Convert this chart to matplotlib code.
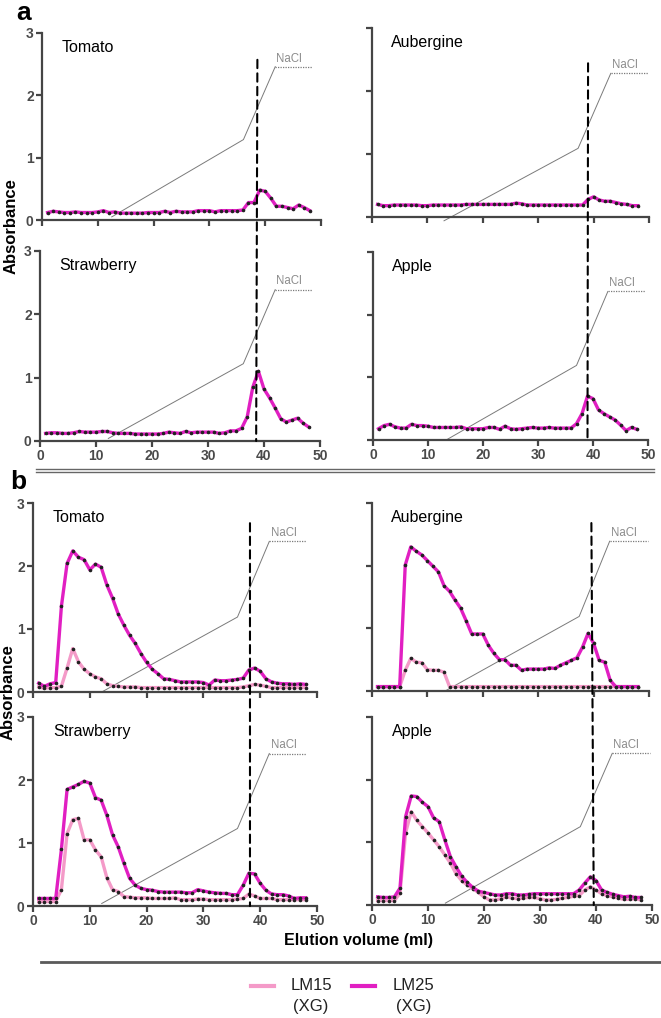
import numpy as np
import matplotlib.pyplot as plt
from matplotlib.patches import ConnectionPatch

plt.rcParams['font.family'] = ['Liberation Sans', 'DejaVu Sans']

W, H = 661, 1018

fractions = list(range(1, 49))

# ---- panel a : LM25 only ----
a_tomato = [0.12, 0.14, 0.13, 0.12, 0.12, 0.13, 0.12, 0.12, 0.12, 0.13,
            0.15, 0.12, 0.13, 0.11, 0.11, 0.11, 0.11, 0.11, 0.12, 0.12,
            0.12, 0.14, 0.12, 0.14, 0.13, 0.13, 0.13, 0.15, 0.15, 0.15,
            0.13, 0.15, 0.15, 0.15, 0.15, 0.16, 0.28, 0.28, 0.48, 0.46,
            0.35, 0.22, 0.22, 0.20, 0.18, 0.24, 0.20, 0.15]
a_aubergine = [0.20, 0.18, 0.18, 0.19, 0.19, 0.19, 0.19, 0.19, 0.18, 0.18,
               0.19, 0.19, 0.19, 0.19, 0.19, 0.19, 0.20, 0.20, 0.20, 0.20,
               0.20, 0.20, 0.20, 0.20, 0.20, 0.22, 0.21, 0.19, 0.19, 0.19,
               0.19, 0.19, 0.19, 0.19, 0.19, 0.19, 0.19, 0.19, 0.28, 0.32,
               0.27, 0.25, 0.25, 0.23, 0.21, 0.20, 0.18, 0.18]
a_strawberry = [0.12, 0.13, 0.13, 0.12, 0.12, 0.13, 0.15, 0.14, 0.14, 0.14,
                0.15, 0.15, 0.13, 0.12, 0.12, 0.12, 0.11, 0.11, 0.11, 0.11,
                0.11, 0.12, 0.14, 0.13, 0.12, 0.15, 0.13, 0.14, 0.14, 0.14,
                0.14, 0.12, 0.13, 0.16, 0.16, 0.20, 0.38, 0.85, 1.10, 0.82,
                0.68, 0.52, 0.35, 0.30, 0.33, 0.36, 0.28, 0.22]
a_apple = [0.18, 0.23, 0.25, 0.21, 0.19, 0.19, 0.25, 0.23, 0.23, 0.22,
           0.20, 0.20, 0.20, 0.20, 0.20, 0.21, 0.18, 0.18, 0.18, 0.18,
           0.20, 0.20, 0.17, 0.22, 0.18, 0.17, 0.18, 0.19, 0.20, 0.19,
           0.19, 0.20, 0.19, 0.19, 0.19, 0.19, 0.26, 0.42, 0.70, 0.66,
           0.48, 0.42, 0.37, 0.32, 0.24, 0.15, 0.20, 0.17]

# ---- panel b : LM15 and LM25 ----
b_tomato_lm25 = [0.14, 0.09, 0.13, 0.15, 1.36, 2.04, 2.24, 2.14, 2.10, 1.94,
                 2.03, 1.98, 1.70, 1.49, 1.24, 1.06, 0.90, 0.77, 0.61, 0.47,
                 0.36, 0.29, 0.21, 0.20, 0.18, 0.16, 0.16, 0.16, 0.16, 0.15,
                 0.11, 0.19, 0.18, 0.18, 0.19, 0.20, 0.22, 0.35, 0.38, 0.33,
                 0.21, 0.16, 0.14, 0.13, 0.13, 0.12, 0.13, 0.12]
b_tomato_lm15 = [0.08, 0.06, 0.07, 0.07, 0.09, 0.38, 0.69, 0.48, 0.36, 0.29,
                 0.24, 0.21, 0.13, 0.10, 0.09, 0.08, 0.08, 0.08, 0.07, 0.07,
                 0.07, 0.07, 0.07, 0.07, 0.07, 0.07, 0.07, 0.07, 0.07, 0.07,
                 0.07, 0.07, 0.07, 0.07, 0.07, 0.07, 0.08, 0.10, 0.12, 0.11,
                 0.09, 0.07, 0.07, 0.07, 0.07, 0.07, 0.07, 0.07]
b_aubergine_lm25 = [0.07, 0.07, 0.07, 0.07, 0.07, 2.01, 2.30, 2.23, 2.17, 2.08,
                    1.99, 1.90, 1.68, 1.59, 1.45, 1.32, 1.12, 0.91, 0.91, 0.91,
                    0.73, 0.60, 0.50, 0.50, 0.41, 0.41, 0.33, 0.35, 0.35, 0.35,
                    0.35, 0.37, 0.36, 0.41, 0.45, 0.49, 0.53, 0.70, 0.92, 0.76,
                    0.49, 0.46, 0.17, 0.07, 0.07, 0.07, 0.07, 0.07]
b_aubergine_lm15 = [0.07, 0.07, 0.07, 0.07, 0.07, 0.33, 0.52, 0.46, 0.45, 0.34,
                    0.33, 0.33, 0.30, 0.07, 0.07, 0.07, 0.07, 0.07, 0.07, 0.07,
                    0.07, 0.07, 0.07, 0.07, 0.07, 0.07, 0.07, 0.07, 0.07, 0.07,
                    0.07, 0.07, 0.07, 0.07, 0.07, 0.07, 0.07, 0.07, 0.07, 0.07,
                    0.07, 0.07, 0.07, 0.07, 0.07, 0.07, 0.07, 0.07]
b_strawberry_lm25 = [0.12, 0.12, 0.12, 0.12, 0.90, 1.85, 1.89, 1.93, 1.98, 1.95,
                     1.72, 1.68, 1.44, 1.13, 0.94, 0.68, 0.44, 0.33, 0.28, 0.26,
                     0.25, 0.23, 0.22, 0.22, 0.22, 0.22, 0.21, 0.21, 0.26, 0.24,
                     0.22, 0.21, 0.20, 0.20, 0.18, 0.18, 0.33, 0.52, 0.51, 0.36,
                     0.25, 0.19, 0.18, 0.18, 0.16, 0.12, 0.13, 0.13]
b_strawberry_lm15 = [0.07, 0.07, 0.07, 0.07, 0.26, 1.15, 1.37, 1.39, 1.05, 1.05,
                     0.89, 0.78, 0.45, 0.26, 0.23, 0.15, 0.14, 0.13, 0.13, 0.13,
                     0.12, 0.12, 0.12, 0.12, 0.13, 0.10, 0.10, 0.10, 0.11, 0.11,
                     0.10, 0.10, 0.10, 0.10, 0.10, 0.11, 0.12, 0.19, 0.16, 0.12,
                     0.12, 0.12, 0.10, 0.10, 0.10, 0.10, 0.10, 0.10]
b_apple_lm25 = [0.13, 0.12, 0.12, 0.13, 0.27, 1.41, 1.74, 1.73, 1.64, 1.57,
                1.39, 1.33, 1.04, 0.77, 0.61, 0.46, 0.36, 0.28, 0.22, 0.20,
                0.18, 0.16, 0.16, 0.18, 0.18, 0.16, 0.16, 0.17, 0.18, 0.18,
                0.18, 0.18, 0.18, 0.18, 0.18, 0.18, 0.24, 0.35, 0.45, 0.39,
                0.24, 0.20, 0.17, 0.15, 0.13, 0.14, 0.12, 0.12]
b_apple_lm15 = [0.07, 0.07, 0.07, 0.07, 0.19, 1.15, 1.49, 1.35, 1.25, 1.15,
                1.04, 0.93, 0.80, 0.67, 0.50, 0.39, 0.32, 0.26, 0.20, 0.13,
                0.08, 0.08, 0.10, 0.13, 0.11, 0.10, 0.11, 0.12, 0.12, 0.10,
                0.08, 0.08, 0.09, 0.11, 0.12, 0.14, 0.15, 0.24, 0.29, 0.24,
                0.18, 0.15, 0.13, 0.11, 0.09, 0.09, 0.10, 0.08]

# NaCl gradient traces (ml, drawn on absorbance scale)
a_tomato_nacl = ([12.5, 36.1, 41.8, 48.3], [0.05, 1.29, 2.46, 2.46])
a_aubergine_nacl = ([13.0, 37.2, 43.1, 49.8], [-0.06, 1.09, 2.28, 2.28])
a_strawberry_nacl = ([12.2, 36.3, 42.0, 48.5], [0.04, 1.22, 2.39, 2.39])
a_apple_nacl = ([13.3, 37.0, 42.7, 49.4], [0.0, 1.19, 2.37, 2.37])
b_tomato_nacl = ([12.1, 36.0, 41.6, 48.1], [0.0, 1.19, 2.39, 2.39])
b_aubergine_nacl = ([13.2, 37.4, 42.9, 49.8], [0.0, 1.19, 2.39, 2.39])
b_strawberry_nacl = ([12.1, 36.0, 41.6, 48.1], [0.04, 1.23, 2.42, 2.42])
b_apple_nacl = ([13.1, 37.2, 42.9, 49.7], [0.03, 1.25, 2.42, 2.42])

# fraction where the NaCl step starts (dashed marker) per column
a_left_mark, a_right_mark = 38.6, 39.0
b_left_mark, b_right_mark = 38.2, 39.6

LM15_COLOR = '#f49ac8'
LM25_COLOR = '#e11fc2'
SPINE = '#454545'

fig = plt.figure(figsize=(W / 100, H / 100), dpi=100)


def px_axes(left, top, right, bottom):
    return fig.add_axes([left / W, 1 - bottom / H, (right - left) / W, (bottom - top) / H])


def style_axes(ax, show_x, show_y):
    ax.set_xlim(0, 50)
    ax.set_ylim(0, 3)
    for s in ['top', 'right']:
        ax.spines[s].set_visible(False)
    for s in ['left', 'bottom']:
        ax.spines[s].set_color(SPINE)
        ax.spines[s].set_linewidth(1.6)
    ax.set_xticks([0, 10, 20, 30, 40, 50])
    ax.set_yticks([0, 1, 2, 3])
    ax.tick_params(direction='out', length=4, width=1.6, color=SPINE,
                   labelsize=10, labelcolor='#4a4a4a', pad=2)
    for lab in ax.get_xticklabels() + ax.get_yticklabels():
        lab.set_fontweight('bold')
    if not show_x:
        ax.set_xticklabels([])
    if not show_y:
        ax.set_yticklabels([])


def draw_panel(ax, name, nacl, lm25, lm15=None):
    gx, gy = nacl
    ax.plot(gx[:3], gy[:3], color='#7a7a7a', lw=0.7, clip_on=False, zorder=1)
    ax.plot(gx[2:], gy[2:], color='#7a7a7a', lw=0.9, ls=(0, (1, 1)), clip_on=False, zorder=1)
    ax.text(gx[2] + 2.5, gy[2] + 0.13, 'NaCl', color='#8c8c8c', fontsize=8.3,
            ha='center', va='center')
    if lm15 is not None:
        ax.plot(fractions, lm15, color=LM15_COLOR, lw=2.4, zorder=2, clip_on=False)
        ax.plot(fractions, lm15, ls='none', marker='o', ms=1.6, color='#222222', zorder=3, clip_on=False)
    ax.plot(fractions, lm25, color=LM25_COLOR, lw=2.4, zorder=4, clip_on=False)
    ax.plot(fractions, lm25, ls='none', marker='o', ms=1.6, color='#222222', zorder=5, clip_on=False)
    ax.text(0.07, 0.925, name, transform=ax.transAxes, fontsize=11.5, ha='left', va='center')


def mark(ax_top, ax_bot, x, top):
    con = ConnectionPatch(xyA=(x, top), coordsA=ax_top.transData,
                          xyB=(x, 0), coordsB=ax_bot.transData,
                          color='black', lw=1.5, ls=(0, (4, 2.5)), zorder=10)
    fig.add_artist(con)


# panel a
ax1 = px_axes(42, 33, 321, 220)
ax2 = px_axes(372, 28, 649, 217)
ax3 = px_axes(40, 251, 320, 441)
ax4 = px_axes(373, 252, 648, 440)
draw_panel(ax1, 'Tomato', a_tomato_nacl, a_tomato)
draw_panel(ax2, 'Aubergine', a_aubergine_nacl, a_aubergine)
draw_panel(ax3, 'Strawberry', a_strawberry_nacl, a_strawberry)
draw_panel(ax4, 'Apple', a_apple_nacl, a_apple)
style_axes(ax1, False, True)
style_axes(ax2, False, False)
style_axes(ax3, True, True)
style_axes(ax4, True, False)
mark(ax1, ax3, a_left_mark, 2.57)
mark(ax2, ax4, a_right_mark, 2.44)

# panel b
bx1 = px_axes(33, 503, 317, 692)
bx2 = px_axes(372, 503, 649, 691)
bx3 = px_axes(33, 717, 317, 906)
bx4 = px_axes(372, 717, 652, 905)
draw_panel(bx1, 'Tomato', b_tomato_nacl, b_tomato_lm25, b_tomato_lm15)
draw_panel(bx2, 'Aubergine', b_aubergine_nacl, b_aubergine_lm25, b_aubergine_lm15)
draw_panel(bx3, 'Strawberry', b_strawberry_nacl, b_strawberry_lm25, b_strawberry_lm15)
draw_panel(bx4, 'Apple', b_apple_nacl, b_apple_lm25, b_apple_lm15)
style_axes(bx1, False, True)
style_axes(bx2, False, False)
style_axes(bx3, True, True)
style_axes(bx4, True, False)
mark(bx1, bx3, b_left_mark, 2.68)
mark(bx2, bx4, b_right_mark, 2.68)

# labels
fig.text(24 / W, 1 - 13 / H, 'a', fontsize=19, fontweight='bold', ha='center', va='center')
fig.text(18 / W, 1 - 482 / H, 'b', fontsize=19, fontweight='bold', ha='center', va='center')
fig.text(11 / W, 1 - 226 / H, 'Absorbance', rotation=90, fontsize=12, fontweight='bold',
         ha='center', va='center')
fig.text(8 / W, 1 - 692 / H, 'Absorbance', rotation=90, fontsize=12, fontweight='bold',
         ha='center', va='center')
fig.text(358 / W, 1 - 941 / H, 'Elution volume (ml)', fontsize=11.5, fontweight='bold',
         ha='center', va='center')

# separators
for yy in (469, 472):
    fig.add_artist(plt.Line2D([36 / W, 654 / W], [1 - yy / H, 1 - yy / H], color='#666666', lw=1.0))
fig.add_artist(plt.Line2D([41 / W, 1.0], [1 - 962 / H, 1 - 962 / H], color='#5a5a5a', lw=2.0))

# legend
for x0, x1, col, tx, lab in [(251, 274, LM15_COLOR, 311, 'LM15'), (352, 375, LM25_COLOR, 414, 'LM25')]:
    fig.add_artist(plt.Line2D([x0 / W, x1 / W], [1 - 986 / H, 1 - 986 / H], color=col, lw=3))
    fig.text(tx / W, 1 - 986 / H, lab, fontsize=12, ha='center', va='center', color='#222222')
    fig.text(tx / W, 1 - 1006 / H, '(XG)', fontsize=12, ha='center', va='center', color='#222222')

fig.savefig('out.png', dpi=100)
